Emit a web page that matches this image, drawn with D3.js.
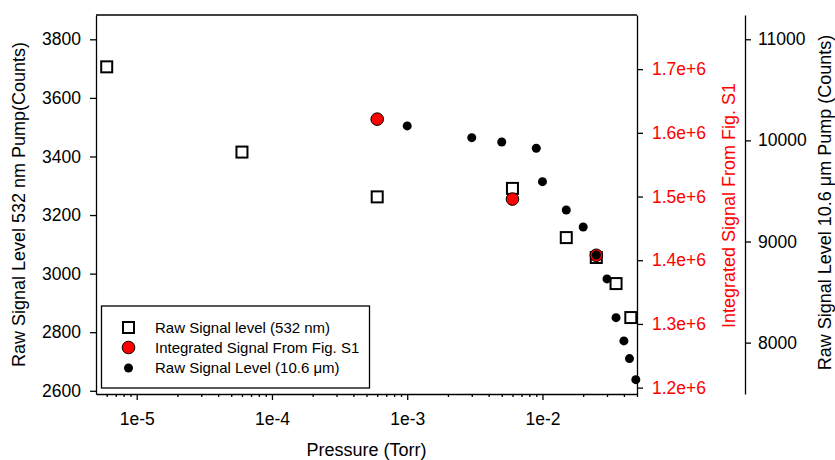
<!DOCTYPE html>
<html>
<head>
<meta charset="utf-8">
<script src="https://cdn.jsdelivr.net/npm/d3@7"></script>
<style>
  body { margin: 0; background: #fff; }
  svg { display: block; font-family: "Liberation Sans", Arial, sans-serif; }
  .axis path, .axis line { stroke: #000; stroke-width: 1.3; }
</style>
</head>
<body>
<div id="chart"></div>
<script>
// 532 nm pump, raw signal (left axis)
const p532 = [6e-6, 6e-5, 6e-4, 6e-3, 0.015, 0.025, 0.035, 0.045];
const raw532 = [3706, 3415, 3262, 3291, 3123, 3055, 2966, 2850];

// integrated signal from Fig. S1 (red axis)
const pInt = [6e-4, 6e-3, 0.025];
const integrated = [1.6215e6, 1.496e6, 1.4078e6];

// 10.6 um pump, raw signal (far right axis)
const p106 = [1e-3, 3e-3, 5e-3, 9e-3, 0.01, 0.015, 0.02, 0.025, 0.03, 0.035, 0.04, 0.044, 0.049];
const raw106 = [10143, 10027, 9984, 9922, 9592, 9312, 9144, 8867, 8630, 8247, 8017, 7842, 7634];

const xTicks = [1e-5, 1e-4, 1e-3, 1e-2];
const xTickLabels = ['1e-5', '1e-4', '1e-3', '1e-2'];
const leftTicks = [2600, 2800, 3000, 3200, 3400, 3600, 3800];
const redTicks = [1.2e6, 1.3e6, 1.4e6, 1.5e6, 1.6e6, 1.7e6];
const redTickLabels = ['1.2e+6', '1.3e+6', '1.4e+6', '1.5e+6', '1.6e+6', '1.7e+6'];
const blackTicks = [8000, 9000, 10000, 11000];

const legendItems = ['Raw Signal level (532 nm)', 'Integrated Signal From Fig. S1', 'Raw Signal Level (10.6 \u03bcm)'];

const width = 835, height = 460;
const plot = { left: 96, right: 637, top: 15, bottom: 394 };
const farAxisX = 745;
const tickFont = 17.5, titleFont = 18;

const svg = d3.select('#chart').append('svg')
  .attr('width', width)
  .attr('height', height);

// scales
const x = d3.scaleLog().domain([5e-6, 5e-2]).range([plot.left, plot.right]);
const yLeft = d3.scaleLinear().domain([2589, 3883]).range([plot.bottom, plot.top]);
const yRed = d3.scaleLinear().domain([1.19e6, 1.785e6]).range([plot.bottom, plot.top]);
const yBlack = d3.scaleLinear().domain([7492, 11240]).range([plot.bottom, plot.top]);

// top border of the frame
svg.append('line')
  .attr('x1', plot.left).attr('x2', plot.right)
  .attr('y1', plot.top).attr('y2', plot.top)
  .attr('stroke', '#000').attr('stroke-width', 1.3);

// minor ticks on the log axis
const minorTicks = [];
for (let e = -6; e <= -2; e++) {
  for (let m = 2; m <= 9; m++) {
    const v = m * Math.pow(10, e);
    if (v >= 5e-6 && v <= 5e-2) minorTicks.push(v);
  }
}

svg.append('g')
  .attr('class', 'axis')
  .attr('transform', `translate(0,${plot.bottom})`)
  .call(d3.axisBottom(x).tickValues(minorTicks).tickSize(3).tickFormat(''))
  .call(g => g.select('.domain').remove());

svg.append('g')
  .attr('class', 'axis')
  .attr('transform', `translate(0,${plot.bottom})`)
  .call(d3.axisBottom(x).tickValues(xTicks).tickSizeInner(6).tickSizeOuter(0).tickPadding(13)
    .tickFormat((d, i) => xTickLabels[i]))
  .call(g => g.selectAll('text').attr('font-size', tickFont).attr('fill', '#000'));

// left axis
svg.append('g')
  .attr('class', 'axis')
  .attr('transform', `translate(${plot.left},0)`)
  .call(d3.axisLeft(yLeft).tickValues(leftTicks).tickSizeInner(6).tickSizeOuter(0).tickPadding(9)
    .tickFormat(d3.format('d')))
  .call(g => g.selectAll('text').attr('font-size', tickFont).attr('fill', '#000'));

// red axis
svg.append('g')
  .attr('class', 'axis')
  .attr('transform', `translate(${plot.right},0)`)
  .call(d3.axisRight(yRed).tickValues(redTicks).tickSizeInner(6).tickSizeOuter(0).tickPadding(9)
    .tickFormat((d, i) => redTickLabels[i]))
  .call(g => g.selectAll('text').attr('font-size', tickFont).attr('fill', '#ff0000'));

// far right axis
svg.append('g')
  .attr('class', 'axis')
  .attr('transform', `translate(${farAxisX},0)`)
  .call(d3.axisRight(yBlack).tickValues(blackTicks).tickSizeInner(6).tickSizeOuter(0).tickPadding(7)
    .tickFormat(d3.format('d')))
  .call(g => g.selectAll('text').attr('font-size', tickFont).attr('fill', '#000'));

// axis titles
svg.append('text')
  .attr('transform', `translate(25,${(plot.top + plot.bottom) / 2}) rotate(-90)`)
  .attr('text-anchor', 'middle')
  .attr('font-size', titleFont)
  .text('Raw Signal Level 532 nm Pump(Counts)');

svg.append('text')
  .attr('transform', `translate(735,${(plot.top + plot.bottom) / 2 + 1}) rotate(-90)`)
  .attr('text-anchor', 'middle')
  .attr('font-size', titleFont)
  .attr('fill', '#ff0000')
  .text('Integrated Signal From Fig. S1');

svg.append('text')
  .attr('transform', `translate(831,${(plot.top + plot.bottom) / 2 - 2}) rotate(-90)`)
  .attr('text-anchor', 'middle')
  .attr('font-size', titleFont)
  .text('Raw Signal Level 10.6 \u03bcm Pump (Counts)');

svg.append('text')
  .attr('x', (plot.left + plot.right) / 2)
  .attr('y', 456)
  .attr('text-anchor', 'middle')
  .attr('font-size', titleFont)
  .text('Pressure (Torr)');

// squares: 532 nm
const sq = 11;
svg.append('g')
  .selectAll('rect')
  .data(p532.map((p, i) => [p, raw532[i]]))
  .enter()
  .append('rect')
  .attr('x', d => x(d[0]) - sq / 2)
  .attr('y', d => yLeft(d[1]) - sq / 2)
  .attr('width', sq)
  .attr('height', sq)
  .attr('fill', '#fff')
  .attr('stroke', '#000')
  .attr('stroke-width', 2);

// red circles: integrated signal
svg.append('g')
  .selectAll('circle')
  .data(pInt.map((p, i) => [p, integrated[i]]))
  .enter()
  .append('circle')
  .attr('cx', d => x(d[0]))
  .attr('cy', d => yRed(d[1]))
  .attr('r', 6.3)
  .attr('fill', '#ff0000')
  .attr('stroke', '#000')
  .attr('stroke-width', 1);

// black dots: 10.6 um
svg.append('g')
  .selectAll('circle')
  .data(p106.map((p, i) => [p, raw106[i]]))
  .enter()
  .append('circle')
  .attr('cx', d => x(d[0]))
  .attr('cy', d => yBlack(d[1]))
  .attr('r', 4.5)
  .attr('fill', '#000');

// legend
const legend = svg.append('g');
legend.append('rect')
  .attr('x', 101.5).attr('y', 306)
  .attr('width', 268).attr('height', 82)
  .attr('fill', '#fff')
  .attr('stroke', '#000')
  .attr('stroke-width', 1.3);

const rowY = [327.5, 347.5, 368];
const symX = 128.5;
legend.append('rect')
  .attr('x', symX - sq / 2).attr('y', rowY[0] - sq / 2)
  .attr('width', sq).attr('height', sq)
  .attr('fill', '#fff').attr('stroke', '#000').attr('stroke-width', 2);
legend.append('circle')
  .attr('cx', symX).attr('cy', rowY[1]).attr('r', 6.3)
  .attr('fill', '#ff0000').attr('stroke', '#000').attr('stroke-width', 1);
legend.append('circle')
  .attr('cx', symX).attr('cy', rowY[2]).attr('r', 4.5)
  .attr('fill', '#000');

legend.selectAll('text.item')
  .data(legendItems)
  .enter()
  .append('text')
  .attr('class', 'item')
  .attr('x', 155)
  .attr('y', (d, i) => rowY[i])
  .attr('dy', '0.35em')
  .attr('font-size', 15)
  .text(d => d);
</script>
</body>
</html>
